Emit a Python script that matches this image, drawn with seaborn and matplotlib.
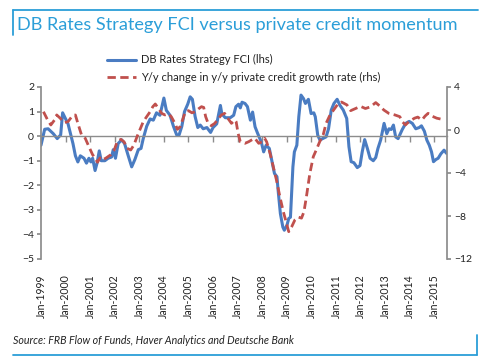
import matplotlib
matplotlib.use("Agg")
import matplotlib.pyplot as plt
import matplotlib.lines as mlines
import seaborn as sns
import pandas as pd
import numpy as np

sns.set_theme(style="white")
plt.rcParams['font.family'] = ['Lato', 'DejaVu Sans']

title = "DB Rates Strategy FCI versus private credit momentum"
source = "Source: FRB Flow of Funds, Haver Analytics and Deutsche Bank"
fci_label = "DB Rates Strategy FCI (lhs)"
credit_label = "Y/y change in y/y private credit growth rate (rhs)"

tick_years = list(range(1999, 2016))
tick_labels = [f"Jan-{y}" for y in tick_years]
left_ticks = [2, 1, 0, -1, -2, -3, -4, -5]
right_ticks = [4, 0, -4, -8, -12]

fci_years = [1999.00, 1999.15, 1999.29, 1999.50, 1999.66, 1999.80, 1999.88, 2000.10, 2000.30, 2000.40,
             2000.50, 2000.60, 2000.75, 2000.85, 2000.95, 2001.03, 2001.10, 2001.20, 2001.28, 2001.37,
             2001.45, 2001.60, 2001.73, 2001.87, 2001.94, 2002.03, 2002.14, 2002.28, 2002.40, 2002.55,
             2002.69, 2002.82, 2002.96, 2003.07, 2003.16, 2003.30, 2003.44, 2003.57, 2003.70, 2003.84,
             2004.00, 2004.10, 2004.25, 2004.39, 2004.52, 2004.62, 2004.73, 2004.84, 2004.97, 2005.07,
             2005.16, 2005.27, 2005.38, 2005.48, 2005.60, 2005.75, 2005.90, 2006.00, 2006.15, 2006.30,
             2006.36, 2006.50, 2006.70, 2006.84, 2006.93, 2007.04, 2007.11, 2007.18, 2007.30, 2007.40,
             2007.52, 2007.61, 2007.71, 2007.82, 2007.96, 2008.06, 2008.16, 2008.29, 2008.39, 2008.50,
             2008.60, 2008.66, 2008.74, 2008.84, 2008.90, 2009.01, 2009.08, 2009.15, 2009.25, 2009.31,
             2009.41, 2009.49, 2009.58, 2009.68, 2009.76, 2009.88, 2009.99, 2010.10, 2010.16, 2010.26,
             2010.35, 2010.46, 2010.60, 2010.70, 2010.81, 2010.92, 2011.05, 2011.16, 2011.30, 2011.44,
             2011.53, 2011.62, 2011.73, 2011.87, 2011.98, 2012.07, 2012.17, 2012.28, 2012.39, 2012.52,
             2012.62, 2012.71, 2012.82, 2012.96, 2013.07, 2013.16, 2013.25, 2013.34, 2013.43, 2013.53,
             2013.70, 2013.84, 2013.98, 2014.11, 2014.25, 2014.39, 2014.48, 2014.60, 2014.70, 2014.80,
             2014.89, 2014.97, 2015.07, 2015.16, 2015.27, 2015.40, 2015.50]
fci_values = [-0.37, 0.28, 0.30, 0.10, -0.10, 0.05, 0.95, 0.50, -0.30, -0.80,
              -1.05, -0.80, -0.90, -1.10, -0.90, -1.05, -0.90, -1.40, -1.10, -0.60,
              -1.00, -1.00, -0.90, -0.85, -0.55, -0.90, -0.30, -0.15, -0.30, -0.80,
              -1.25, -0.95, -0.55, -0.50, -0.10, 0.40, 0.70, 0.65, 0.95, 0.85,
              1.55, 1.05, 0.85, 0.40, 0.05, 0.05, 0.40, 1.00, 1.30, 1.60,
              1.50, 0.80, 0.35, 0.45, 0.30, 0.35, 0.15, 0.35, 0.50, 1.25,
              0.90, 0.75, 0.75, 0.85, 1.20, 1.30, 1.15, 1.38, 1.33, 1.20,
              0.65, 0.98, 0.38, 0.10, -0.23, -0.64, -0.37, -0.50, -0.98, -1.52,
              -1.65, -2.33, -3.15, -3.70, -3.83, -3.62, -3.35, -3.30, -1.25, -0.64,
              -0.37, 0.79, 1.67, 1.53, 1.33, 1.50, 0.92, 0.95, 0.79, 0.04,
              -0.16, -0.10, -0.03, 0.30, 1.06, 1.33, 1.50, 1.26, 1.06, 0.72,
              -0.43, -1.04, -1.08, -1.28, -1.20, -0.64, -0.14, -0.50, -0.90, -1.00,
              -0.87, -0.50, -0.16, 0.52, 0.10, 0.30, 0.27, 0.45, -0.03, -0.10,
              0.27, 0.52, 0.60, 0.52, 0.30, 0.35, 0.42, 0.20, -0.16, -0.37,
              -0.64, -1.04, -0.95, -0.90, -0.72, -0.57, -0.70]

credit_years = [1999.10, 1999.27, 1999.40, 1999.55, 1999.64, 1999.78, 1999.95, 2000.10, 2000.27, 2000.40,
                2000.50, 2000.65, 2000.80, 2000.95, 2001.10, 2001.20, 2001.30, 2001.40, 2001.50, 2001.65,
                2001.84, 2001.98, 2002.10, 2002.25, 2002.38, 2002.50, 2002.65, 2002.78, 2002.92, 2003.02,
                2003.16, 2003.30, 2003.44, 2003.55, 2003.65, 2003.78, 2003.91, 2004.04, 2004.18, 2004.30,
                2004.45, 2004.55, 2004.66, 2004.77, 2004.87, 2005.00, 2005.14, 2005.27, 2005.40, 2005.53,
                2005.62, 2005.70, 2005.80, 2005.93, 2006.07, 2006.20, 2006.34, 2006.47, 2006.60, 2006.75,
                2006.89, 2006.94, 2007.02, 2007.11, 2007.30, 2007.45, 2007.57, 2007.70, 2007.86, 2008.00,
                2008.10, 2008.18, 2008.32, 2008.45, 2008.58, 2008.72, 2008.86, 2008.99, 2009.08, 2009.20,
                2009.33, 2009.47, 2009.60, 2009.70, 2009.80, 2009.94, 2010.08, 2010.20, 2010.34, 2010.48,
                2010.60, 2010.76, 2010.95, 2011.10, 2011.23, 2011.45, 2011.60, 2011.80, 2012.00, 2012.20,
                2012.40, 2012.62, 2012.80, 2012.95, 2013.15, 2013.40, 2013.60, 2013.70, 2013.83, 2013.97,
                2014.20, 2014.33, 2014.50, 2014.63, 2014.75, 2014.90, 2015.10, 2015.30, 2015.40]
credit_values = [1.70, 0.93, 0.47, 0.93, 1.40, 1.10, 0.68, 0.78, 1.30, 1.40,
                 0.62, -0.47, -0.77, -1.55, -2.30, -2.60, -3.00, -2.60, -2.80, -2.60,
                 -2.30, -1.86, -1.08, -0.87, -1.10, -1.70, -1.86, -1.40, -0.55, 0.00,
                 0.77, 1.24, 1.70, 2.17, 2.42, 2.00, 1.55, 1.40, 1.50, 1.24,
                 0.62, 0.06, 0.30, 1.00, 1.70, 1.80, 1.60, 1.70, 1.95, 2.17,
                 2.10, 1.24, 0.62, 0.40, 0.62, 1.00, 1.40, 1.55, 1.10, 0.62,
                 0.93, 0.77, -0.31, -1.09, -1.24, -1.09, -0.93, -0.77, -1.24, -1.09,
                 -0.77, -1.09, -2.17, -3.41, -4.65, -6.20, -7.60, -8.68, -9.46, -9.00,
                 -8.37, -8.10, -8.20, -7.60, -6.20, -4.03, -2.48, -1.86, -1.09, -0.47,
                 0.62, 1.40, 2.00, 2.48, 2.60, 2.33, 1.80, 2.00, 2.20, 2.00,
                 2.15, 2.55, 2.20, 1.86, 1.55, 1.40, 1.24, 0.78, 0.47, 0.78,
                 1.10, 1.20, 0.93, 1.30, 1.55, 1.30, 1.10, 1.00, 0.93]

fci_df = pd.DataFrame({"year": fci_years, "value": fci_values})
credit_df = pd.DataFrame({"year": credit_years, "value": credit_values})

BLUE = "#4a7cc2"
RED = "#c0504d"
FRAME = "#2b9ed8"
AXC = "#8c8c8c"
TXT = "#222222"

fig = plt.figure(figsize=(4.88, 3.64), dpi=100)
ax = fig.add_axes([41/488, 1-259/364, (447-41)/488, (259-87)/364])
ax2 = ax.twinx()

sns.lineplot(data=fci_df, x="year", y="value", ax=ax, color=BLUE, linewidth=2.2, legend=False)
sns.lineplot(data=credit_df, x="year", y="value", ax=ax2, color=RED, linewidth=2.0, legend=False)
ax2.lines[0].set_dashes((3, 1.6))

ax.set_xlim(1999.0, 2015.52)
ax.set_ylim(-5, 2)
ax2.set_ylim(-12, 4)
ax.set_yticks(left_ticks)
ax2.set_yticks(right_ticks)
ax.set_xlabel("")
ax.set_ylabel("")
ax2.set_ylabel("")

for a in (ax, ax2):
    a.grid(False)
    a.spines['top'].set_visible(False)
    a.set_facecolor('none')
ax.spines['bottom'].set_position(('data', 0))
ax.spines['bottom'].set_color(AXC)
ax.spines['bottom'].set_linewidth(1.0)
ax.spines['left'].set_color(AXC)
ax.spines['right'].set_visible(False)
ax2.spines['left'].set_visible(False)
ax2.spines['bottom'].set_visible(False)
ax2.spines['right'].set_color(AXC)

ax.set_xticks(tick_years)
ax.tick_params(axis='x', which='both', bottom=True, length=4, direction='out', color=AXC,
               labelbottom=False, width=1.0)
ax.tick_params(axis='y', left=True, length=3, direction='out', color=AXC, labelsize=7.5,
               labelcolor=TXT, pad=2)
ax2.tick_params(axis='y', right=True, length=3, direction='out', color=AXC, labelsize=7.5,
                labelcolor=TXT, pad=2)

sec = ax.secondary_xaxis(0.0)
sec.set_xticks(tick_years)
sec.set_xticklabels(tick_labels, rotation=90, fontsize=7.6, color=TXT)
sec.tick_params(axis='x', length=0, pad=11)
sec.spines['bottom'].set_visible(False)

h1 = mlines.Line2D([], [], color=BLUE, linewidth=2.2)
h2 = mlines.Line2D([], [], color=RED, linewidth=2.0, dashes=(3, 1.6))
fig.legend([h1, h2], [fci_label, credit_label], loc='upper left',
           bbox_to_anchor=(103/488, 1-50/364), frameon=False, fontsize=8,
           handlelength=2.6, handletextpad=0.4, labelspacing=0.55, borderaxespad=0,
           labelcolor=TXT)

fig.text(17/488, 1-25/364, title, fontsize=13.1, color=FRAME, va='center', ha='left')
fig.text(13/488, 1-340/364, source, fontsize=7.7, style='italic', color=TXT,
         va='center', ha='left')

fig.add_artist(mlines.Line2D([13/488, 478/488], [1-10/364, 1-10/364], color=FRAME, linewidth=1.3))
fig.add_artist(mlines.Line2D([13/488, 13/488], [1-10/364, 1-35/364], color=FRAME, linewidth=1.3))
fig.add_artist(mlines.Line2D([13/488, 477/488], [1-355/364, 1-355/364], color=FRAME, linewidth=1.3))
fig.add_artist(mlines.Line2D([477/488, 477/488], [1-335/364, 1-355/364], color=FRAME, linewidth=1.3))

fig.savefig("out.png", dpi=100)
